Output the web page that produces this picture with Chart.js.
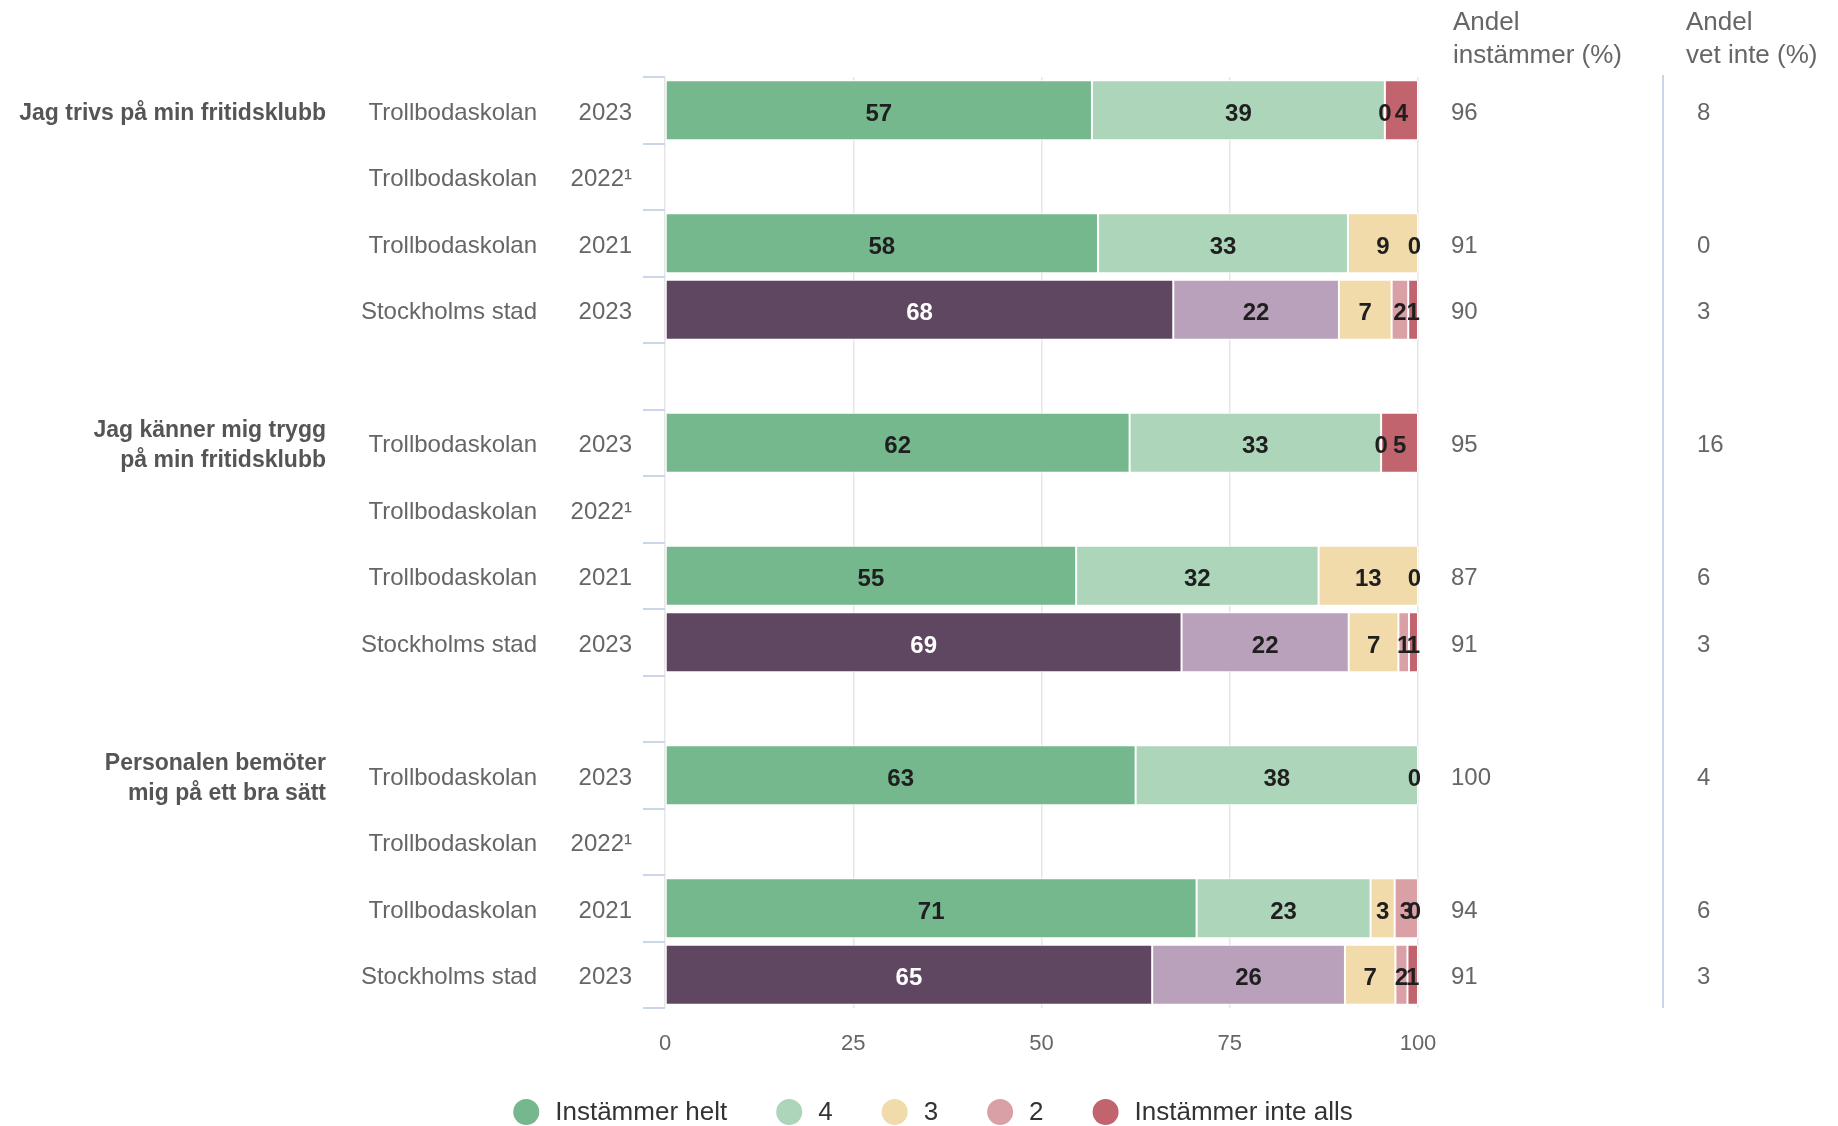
<!DOCTYPE html>
<html>
<head>
<meta charset="utf-8">
<script src="https://cdn.jsdelivr.net/npm/chart.js@4"></script>
<style>
  html, body { margin: 0; background: #fff; }
  canvas { display: block; }
</style>
</head>
<body>
<canvas id="chart" width="1838" height="1126"></canvas>
<script>
// frågor, enheter och år (4 rader per fråga, tom rad emellan)
var questions = [
  ['Jag trivs på min fritidsklubb'],
  ['Jag känner mig trygg', 'på min fritidsklubb'],
  ['Personalen bemöter', 'mig på ett bra sätt']
];
var units = ['Trollbodaskolan', 'Trollbodaskolan', 'Trollbodaskolan', 'Stockholms stad'];
var years = ['2023', '2022\u00b9', '2021', '2023'];
var seriesNames = ['Instämmer helt', '4', '3', '2', 'Instämmer inte alls'];

// andelar per rad (null = tom rad / saknas)
var helt     = [56.7, null, 57.5, 67.5, null, 61.7, null, 54.6, 68.6, null, 62.5, null, 70.6, 64.7];
var fyra     = [38.9, null, 33.2, 22.0, null, 33.4, null, 32.2, 22.2, null, 37.5, null, 23.1, 25.6];
var tre      = [0,    null, 9.3,  7.0,  null, 0,    null, 13.2, 6.6,  null, 0,    null, 3.2,  6.7];
var tva      = [0,    null, 0,    2.2,  null, 0,    null, 0,    1.4,  null, 0,    null, 3.1,  1.6];
var inteAlls = [4.4,  null, 0,    1.3,  null, 4.9,  null, 0,    1.2,  null, 0,    null, 0,    1.4];

var andelInstammer = [96, null, 91, 90, null, 95, null, 87, 91, null, 100, null, 94, 91];
var andelVetInte   = [8,  null, 0,  3,  null, 16, null, 6,  3,  null, 4,   null, 6,  3];
var xTicks = [0, 25, 50, 75, 100];

var colTroll = ['#75b88d', '#acd5ba', '#f2dbaa', '#d9a0a6', '#c1646d'];
var colCity  = ['#5f4762', '#b9a1bb', '#f2dbaa', '#d9a0a6', '#c1646d'];
var FONT = '"Liberation Sans", Arial, sans-serif';

// bygg raderna
var rows = [];
questions.forEach(function (q, qi) {
  units.forEach(function (u, ui) {
    rows.push({ q: ui === 0 ? q : null, unit: u, year: years[ui], city: ui === 3 });
  });
  if (qi < questions.length - 1) rows.push(null);
});

var seriesData = [helt, fyra, tre, tva, inteAlls];
var datasets = seriesData.map(function (d, i) {
  return {
    label: seriesNames[i],
    data: d,
    backgroundColor: rows.map(function (r) { return r && r.city ? colCity[i] : colTroll[i]; }),
    borderColor: '#ffffff',
    borderWidth: 1,
    borderSkipped: false,
    barPercentage: 0.9,
    categoryPercentage: 1
  };
});

var PLOT_TOP = 77, PLOT_BOTTOM = 1008, PLOT_LEFT = 665, PLOT_RIGHT = 1418;

var overlay = {
  id: 'overlay',
  afterDatasetsDraw: function (chart) {
    var ctx = chart.ctx;
    var area = chart.chartArea;
    ctx.save();
    ctx.font = 'bold 24px ' + FONT;
    ctx.textAlign = 'center';
    ctx.textBaseline = 'middle';
    rows.forEach(function (r, j) {
      if (!r) return;
      var zeroAt = [];
      chart.data.datasets.forEach(function (ds, i) {
        var v = ds.data[j];
        if (v === null || v === undefined) return;
        var el = chart.getDatasetMeta(i).data[j];
        var txt = String(Math.round(v));
        var w = ctx.measureText(txt).width;
        var cx = (el.base + el.x) / 2;
        cx = Math.min(cx, area.right + 3 - w / 2);
        if (v === 0) {
          if (zeroAt.some(function (p) { return Math.abs(p - cx) < 4; })) return;
          zeroAt.push(cx);
        }
        ctx.fillStyle = (r.city && i === 0) ? '#ffffff' : '#1f1f1f';
        ctx.fillText(txt, cx, el.y + 4);
      });
    });
    ctx.restore();
  },
  afterDraw: function (chart) {
    var ctx = chart.ctx;
    var y = chart.scales.y;
    var area = chart.chartArea;
    var slot = (area.bottom - area.top) / rows.length;
    ctx.save();

    // kategorimarkeringar på y-axeln
    ctx.strokeStyle = '#ccd6eb';
    ctx.lineWidth = 2;
    for (var k = 0; k <= rows.length; k++) {
      var ty = Math.round(area.top + k * slot);
      ctx.beginPath();
      ctx.moveTo(area.left - 22, ty);
      ctx.lineTo(area.left, ty);
      ctx.stroke();
    }

    // avdelare mellan kolumnerna
    ctx.beginPath();
    ctx.moveTo(1663, area.top - 2);
    ctx.lineTo(1663, area.bottom);
    ctx.stroke();

    ctx.textBaseline = 'middle';
    rows.forEach(function (r, j) {
      if (!r) return;
      var cy = y.getPixelForValue(j) + 3;
      ctx.fillStyle = '#666666';
      ctx.font = '24px ' + FONT;
      ctx.textAlign = 'right';
      ctx.fillText(r.unit, 537, cy);
      ctx.fillText(r.year, 632, cy);
      ctx.textAlign = 'left';
      if (andelInstammer[j] !== null) ctx.fillText(String(andelInstammer[j]), 1451, cy);
      if (andelVetInte[j] !== null) ctx.fillText(String(andelVetInte[j]), 1697, cy);
      if (r.q) {
        ctx.font = 'bold 23px ' + FONT;
        ctx.fillStyle = '#555555';
        ctx.textAlign = 'right';
        var lh = 30;
        var y0 = cy - (r.q.length - 1) * lh / 2;
        r.q.forEach(function (line, li) { ctx.fillText(line, 326, y0 + li * lh); });
      }
    });

    // kolumnrubriker
    ctx.fillStyle = '#666666';
    ctx.font = '26px ' + FONT;
    ctx.textAlign = 'left';
    ctx.fillText('Andel', 1453, 23);
    ctx.fillText('instämmer (%)', 1453, 56);
    ctx.fillText('Andel', 1686, 23);
    ctx.fillText('vet inte (%)', 1686, 56);

    // förklaring
    ctx.font = '26px ' + FONT;
    var r0 = 13, gapText = 16, gapItem = 49;
    var widths = seriesNames.map(function (n) { return 2 * r0 + gapText + ctx.measureText(n).width; });
    var total = widths.reduce(function (a, b) { return a + b; }, 0) + gapItem * (widths.length - 1);
    var lx = 933 - total / 2;
    var ly = 1112;
    seriesNames.forEach(function (n, i) {
      ctx.fillStyle = colTroll[i];
      ctx.beginPath();
      ctx.arc(lx + r0, ly, r0, 0, Math.PI * 2);
      ctx.fill();
      ctx.fillStyle = '#333333';
      ctx.textAlign = 'left';
      ctx.fillText(n, lx + 2 * r0 + gapText, ly + 1);
      lx += widths[i] + gapItem;
    });
    ctx.restore();
  }
};

new Chart(document.getElementById('chart'), {
  type: 'bar',
  data: {
    labels: rows.map(function (r) { return r ? r.unit + ' ' + r.year : ''; }),
    datasets: datasets
  },
  options: {
    indexAxis: 'y',
    responsive: false,
    animation: false,
    events: [],
    layout: { padding: { top: PLOT_TOP, right: 1838 - PLOT_RIGHT, bottom: 0, left: 0 } },
    plugins: { legend: { display: false }, tooltip: { enabled: false } },
    scales: {
      x: {
        stacked: true,
        min: 0,
        max: 100,
        afterBuildTicks: function (scale) {
          scale.ticks = xTicks.map(function (v) { return { value: v }; });
        },
        afterFit: function (scale) { scale.height = 1126 - PLOT_BOTTOM; },
        grid: { color: '#e6e6e6', lineWidth: 1.5, drawTicks: false },
        border: { display: false },
        ticks: { color: '#666666', font: { family: FONT, size: 22 }, padding: 23 }
      },
      y: {
        stacked: true,
        afterFit: function (scale) { scale.width = PLOT_LEFT; },
        grid: { display: false },
        border: { display: false },
        ticks: { display: false }
      }
    }
  },
  plugins: [overlay]
});
</script>
</body>
</html>
